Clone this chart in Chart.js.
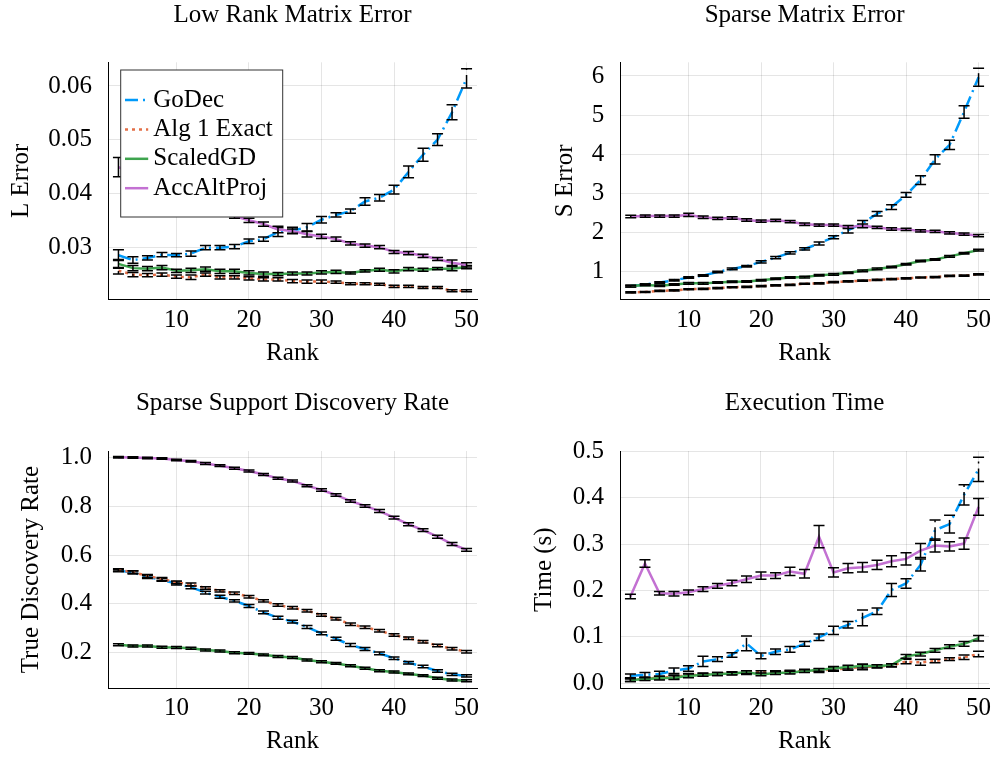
<!DOCTYPE html>
<html><head><meta charset="utf-8">
<script src="https://cdn.jsdelivr.net/npm/chart.js@4"></script>
<style>
html,body{margin:0;padding:0;background:#fff;}
#wrap{position:relative;width:995px;height:757px;overflow:hidden;}
canvas{position:absolute;}
</style></head><body>
<div id="wrap">
<canvas id="c1" width="497" height="378" style="left:0;top:0"></canvas>
<canvas id="c2" width="498" height="378" style="left:497px;top:0"></canvas>
<canvas id="c3" width="497" height="379" style="left:0;top:378px"></canvas>
<canvas id="c4" width="498" height="379" style="left:497px;top:378px"></canvas>
</div>
<script>
// ---------- data ----------
const ranks = [2,4,6,8,10,12,14,16,18,20,22,24,26,28,30,32,34,36,38,40,42,44,46,48,50];
const seriesNames = ['GoDec','Alg 1 Exact','ScaledGD','AccAltProj'];
const xTicks = [10,20,30,40,50];

// Low Rank Matrix Error
const lGoDec = [0.0285,0.0276,0.0280,0.0286,0.0285,0.0288,0.0299,0.0299,0.0301,0.0311,0.0315,0.0328,0.0331,0.0337,0.0351,0.0360,0.0367,0.0385,0.0392,0.0407,0.0440,0.0472,0.0500,0.0551,0.0614];
const lGoDecErr = [0.0010,0.0006,0.0004,0.0004,0.0003,0.0005,0.0004,0.0004,0.0004,0.0004,0.0004,0.0008,0.0006,0.0007,0.0006,0.0004,0.0004,0.0007,0.0006,0.0008,0.0011,0.0012,0.0011,0.0014,0.0018];
const lAlg1 = [0.0256,0.0249,0.0248,0.0249,0.0245,0.0244,0.0249,0.0244,0.0244,0.0242,0.0240,0.0240,0.0237,0.0236,0.0236,0.0235,0.0232,0.0232,0.0231,0.0227,0.0227,0.0225,0.0225,0.0219,0.0219];
const lAlg1Err = [0.0006,0.0004,0.0003,0.0003,0.0003,0.0004,0.0003,0.0003,0.0003,0.0003,0.0003,0.0003,0.0003,0.0003,0.0003,0.0002,0.0002,0.0002,0.0002,0.0002,0.0002,0.0002,0.0002,0.0002,0.0002];
const lScaled = [0.0269,0.0261,0.0260,0.0262,0.0256,0.0257,0.0259,0.0255,0.0255,0.0252,0.0250,0.0250,0.0251,0.0251,0.0253,0.0254,0.0252,0.0256,0.0258,0.0255,0.0259,0.0258,0.0260,0.0260,0.0263];
const lScaledErr = [0.0008,0.0005,0.0004,0.0004,0.0003,0.0004,0.0004,0.0004,0.0004,0.0004,0.0004,0.0003,0.0003,0.0003,0.0003,0.0003,0.0002,0.0002,0.0003,0.0003,0.0003,0.0003,0.0002,0.0004,0.0003];
const lAcc = [0.0449,0.0437,0.0426,0.0415,0.0404,0.0393,0.0382,0.0371,0.0358,0.0350,0.0343,0.0333,0.0330,0.0324,0.0320,0.0315,0.0307,0.0303,0.0300,0.0291,0.0289,0.0284,0.0278,0.0271,0.0267];
const lAccErr = [0.0018,0.0005,0.0005,0.0005,0.0004,0.0004,0.0004,0.0004,0.0004,0.0004,0.0004,0.0006,0.0004,0.0005,0.0004,0.0004,0.0003,0.0003,0.0003,0.0003,0.0003,0.0003,0.0003,0.0005,0.0004];
const lTicks = [0.03,0.04,0.05,0.06];

// Sparse Matrix Error
const sGoDec = [0.63,0.67,0.72,0.78,0.85,0.90,0.99,1.07,1.14,1.25,1.36,1.48,1.58,1.72,1.88,2.06,2.24,2.48,2.65,2.96,3.34,3.87,4.24,5.08,5.97];
const sGoDecErr = [0.02,0.02,0.02,0.02,0.02,0.02,0.02,0.02,0.02,0.03,0.03,0.03,0.03,0.04,0.04,0.07,0.07,0.06,0.06,0.06,0.11,0.12,0.12,0.16,0.23];
const sAlg1 = [0.47,0.48,0.51,0.52,0.55,0.56,0.58,0.60,0.61,0.63,0.65,0.66,0.69,0.70,0.73,0.75,0.77,0.79,0.81,0.83,0.85,0.86,0.89,0.90,0.93];
const sAlg1Err = [0.015,0.015,0.015,0.015,0.015,0.015,0.015,0.015,0.015,0.015,0.015,0.015,0.015,0.015,0.015,0.015,0.015,0.015,0.015,0.015,0.015,0.015,0.015,0.015,0.015];
const sScaled = [0.63,0.66,0.64,0.67,0.70,0.70,0.72,0.74,0.75,0.78,0.82,0.85,0.86,0.91,0.93,0.97,1.02,1.07,1.12,1.19,1.27,1.31,1.39,1.47,1.55];
const sScaledErr = [0.02,0.02,0.02,0.02,0.02,0.02,0.02,0.02,0.02,0.02,0.02,0.02,0.02,0.02,0.02,0.02,0.02,0.02,0.02,0.02,0.02,0.02,0.02,0.02,0.02];
const sAcc = [2.41,2.42,2.42,2.42,2.45,2.39,2.36,2.37,2.32,2.29,2.31,2.28,2.21,2.19,2.19,2.14,2.17,2.13,2.09,2.08,2.04,2.03,1.99,1.96,1.92];
const sAccErr = [0.03,0.03,0.03,0.03,0.04,0.03,0.03,0.03,0.03,0.03,0.03,0.03,0.03,0.03,0.03,0.04,0.05,0.03,0.03,0.03,0.03,0.03,0.03,0.03,0.03];
const sTicks = [1,2,3,4,5,6];

// Sparse Support Discovery Rate
const tGoDec = [0.536,0.528,0.510,0.498,0.483,0.468,0.446,0.429,0.412,0.391,0.365,0.343,0.327,0.305,0.279,0.257,0.231,0.215,0.197,0.177,0.159,0.143,0.125,0.111,0.105];
const tGoDecErr = [0.005,0.006,0.006,0.006,0.006,0.006,0.006,0.006,0.005,0.006,0.006,0.006,0.006,0.006,0.006,0.006,0.006,0.006,0.006,0.005,0.005,0.005,0.005,0.005,0.005];
const tAlg1 = [0.539,0.530,0.514,0.502,0.488,0.479,0.465,0.453,0.443,0.429,0.412,0.395,0.384,0.372,0.354,0.339,0.316,0.304,0.290,0.272,0.259,0.245,0.229,0.216,0.204];
const tAlg1Err = [0.005,0.005,0.006,0.006,0.006,0.006,0.005,0.005,0.005,0.005,0.005,0.005,0.005,0.005,0.005,0.005,0.005,0.005,0.005,0.005,0.005,0.005,0.005,0.005,0.005];
const tScaled = [0.232,0.227,0.227,0.222,0.221,0.218,0.211,0.207,0.200,0.197,0.191,0.184,0.180,0.170,0.163,0.156,0.146,0.136,0.126,0.121,0.113,0.106,0.095,0.088,0.085];
const tScaledErr = [0.004,0.004,0.004,0.004,0.004,0.004,0.004,0.004,0.004,0.004,0.004,0.004,0.004,0.004,0.004,0.004,0.004,0.004,0.004,0.004,0.004,0.004,0.004,0.004,0.004];
const tAcc = [1.000,0.999,0.997,0.995,0.989,0.984,0.975,0.966,0.955,0.944,0.930,0.914,0.903,0.884,0.866,0.846,0.821,0.801,0.780,0.753,0.726,0.702,0.675,0.645,0.621];
const tAccErr = [0.003,0.003,0.003,0.003,0.003,0.003,0.004,0.004,0.004,0.004,0.004,0.004,0.004,0.004,0.005,0.005,0.005,0.005,0.006,0.006,0.006,0.006,0.006,0.006,0.006];
const tTicks = [0.2,0.4,0.6,0.8,1.0];

// Execution Time
const eGoDec = [0.016,0.018,0.020,0.027,0.032,0.047,0.052,0.061,0.086,0.059,0.068,0.073,0.085,0.099,0.114,0.126,0.141,0.155,0.201,0.215,0.255,0.330,0.343,0.406,0.461];
const eGoDecErr = [0.004,0.005,0.006,0.006,0.006,0.011,0.005,0.005,0.016,0.006,0.006,0.006,0.005,0.007,0.009,0.007,0.017,0.007,0.014,0.010,0.013,0.022,0.019,0.022,0.026];
const eAlg1 = [0.007,0.010,0.012,0.014,0.017,0.019,0.020,0.022,0.023,0.024,0.024,0.025,0.027,0.027,0.030,0.032,0.035,0.036,0.038,0.047,0.045,0.048,0.052,0.056,0.063];
const eAlg1Err = [0.003,0.003,0.003,0.004,0.004,0.003,0.003,0.003,0.004,0.003,0.003,0.003,0.003,0.004,0.004,0.004,0.006,0.003,0.003,0.005,0.006,0.004,0.003,0.005,0.006];
const eScaled = [0.007,0.009,0.011,0.012,0.016,0.018,0.020,0.021,0.024,0.019,0.022,0.023,0.026,0.029,0.032,0.035,0.037,0.037,0.039,0.058,0.063,0.071,0.079,0.085,0.097];
const eScaledErr = [0.003,0.003,0.004,0.004,0.004,0.003,0.003,0.003,0.003,0.003,0.003,0.003,0.003,0.003,0.004,0.004,0.004,0.003,0.003,0.004,0.004,0.004,0.004,0.005,0.006];
const eAcc = [0.187,0.258,0.194,0.193,0.196,0.203,0.210,0.216,0.224,0.232,0.232,0.241,0.236,0.316,0.239,0.248,0.250,0.255,0.263,0.268,0.286,0.297,0.295,0.301,0.380];
const eAccErr = [0.005,0.008,0.004,0.005,0.005,0.005,0.005,0.006,0.007,0.008,0.006,0.009,0.009,0.024,0.010,0.010,0.010,0.010,0.012,0.013,0.015,0.014,0.010,0.012,0.018];
const eTicks = [0.0,0.1,0.2,0.3,0.4,0.5];

// ---------- styles ----------
const SERIF = "'Liberation Serif', 'Times New Roman', serif";
const lineStyles = [
  {color:'#009AFA', dash:[13,5,2,5]},
  {color:'#E36F47', dash:[3,4]},
  {color:'#3EA44E', dash:[]},
  {color:'#C371D2', dash:[]}
];
const font25 = {family: SERIF, size: 25, weight: 'normal', lineHeight: 1.2};

const errorBars = {
  id: 'errorBars',
  afterDatasetDraw(chart, args) {
    const ds = chart.data.datasets[args.index];
    if (!ds.errors) return;
    const ctx = chart.ctx, xs = chart.scales.x, ys = chart.scales.y;
    ctx.save();
    ctx.strokeStyle = '#000';
    ctx.lineWidth = 1.5;
    ctx.lineCap = 'butt';
    ds.data.forEach((p, i) => {
      const e = ds.errors[i];
      const x = xs.getPixelForValue(p.x);
      const yl = ys.getPixelForValue(p.y - e);
      const yh = ys.getPixelForValue(p.y + e);
      ctx.setLineDash(ds.borderDash || []);
      ctx.beginPath();
      ctx.moveTo(x, yl); ctx.lineTo(x, yh);
      ctx.stroke();
      ctx.setLineDash([]);
      ctx.beginPath();
      ctx.moveTo(x - 5.5, yl); ctx.lineTo(x + 5.5, yl);
      ctx.moveTo(x - 5.5, yh); ctx.lineTo(x + 5.5, yh);
      ctx.stroke();
    });
    ctx.restore();
  }
};

const boxLegend = {
  id: 'boxLegend',
  afterDraw(chart, args, opts) {
    if (!opts || !opts.show) return;
    const a = chart.chartArea, ctx = chart.ctx;
    const x0 = a.left + 12.7, y0 = a.top + 7.7, w = 162, h = 147;
    ctx.save();
    ctx.fillStyle = '#fff';
    ctx.fillRect(x0, y0, w, h);
    ctx.strokeStyle = '#333';
    ctx.lineWidth = 1;
    ctx.setLineDash([]);
    ctx.strokeRect(x0, y0, w, h);
    chart.data.datasets.forEach((ds, i) => {
      const y = y0 + 30 + i * 29.4;
      ctx.strokeStyle = ds.borderColor;
      ctx.lineWidth = ds.borderWidth;
      ctx.setLineDash(ds.borderDash || []);
      ctx.beginPath(); ctx.moveTo(x0 + 4.3, y); ctx.lineTo(x0 + 27.5, y); ctx.stroke();
      ctx.setLineDash([]);
      ctx.fillStyle = '#000';
      ctx.font = "25px " + SERIF;
      ctx.textBaseline = 'middle';
      ctx.textAlign = 'left';
      ctx.fillText(ds.label, x0 + 32.6, y);
    });
    ctx.restore();
  }
};

function makeChart(id, cfg) {
  return new Chart(document.getElementById(id), {
    type: 'line',
    data: {
      datasets: cfg.series.map((vals, i) => ({
        label: seriesNames[i],
        data: ranks.map((r, j) => ({x: r, y: vals[j]})),
        errors: cfg.errors[i],
        borderColor: lineStyles[i].color,
        backgroundColor: lineStyles[i].color,
        borderWidth: 2.5,
        borderDash: lineStyles[i].dash,
        pointRadius: 0,
        tension: 0,
        fill: false,
        order: 3 - i
      }))
    },
    plugins: [errorBars, boxLegend],
    options: {
      responsive: false,
      animation: false,
      events: [],
      layout: {padding: {left: 0, right: cfg.padRight, top: 0, bottom: 0}},
      plugins: {
        legend: {display: false},
        tooltip: {enabled: false},
        boxLegend: {show: !!cfg.legend},
        title: {display: true, text: cfg.title, fullSize: false, color: '#000', font: font25,
                padding: {top: cfg.titleTop, bottom: cfg.titleBottom}}
      },
      scales: {
        x: {
          type: 'linear', min: 0.56, max: 51.44,
          afterBuildTicks: s => { s.ticks = xTicks.map(v => ({value: v})); },
          afterFit: s => { s.height = cfg.xAxisH; s.paddingLeft = 0; s.paddingRight = 0; },
          grid: {color: 'rgba(0,0,0,0.1)', lineWidth: 1, drawTicks: false},
          border: {display: true, color: '#000', width: 1},
          ticks: {color: '#000', font: font25, padding: cfg.xTickPad, maxRotation: 0, autoSkip: false,
                  callback: v => String(v)},
          title: {display: true, text: 'Rank', color: '#000', font: font25, padding: {top: 0, bottom: cfg.xTitlePad}}
        },
        y: {
          type: 'linear', min: cfg.yMin, max: cfg.yMax,
          afterBuildTicks: s => { s.ticks = cfg.yTicks.map(v => ({value: v})); },
          afterFit: s => { s.width = cfg.yAxisW; s.paddingTop = 0; s.paddingBottom = 0; },
          grid: {color: 'rgba(0,0,0,0.1)', lineWidth: 1, drawTicks: false},
          border: {display: true, color: '#000', width: 1},
          ticks: {color: '#000', font: font25, padding: 16, autoSkip: false,
                  callback: v => Number(v).toFixed(cfg.dec)},
          title: {display: true, text: cfg.ylabel, color: '#000', font: font25, padding: {top: cfg.yTitlePad, bottom: 0}}
        }
      }
    }
  });
}

makeChart('c1', {
  title: 'Low Rank Matrix Error', ylabel: 'L Error',
  series: [lGoDec, lAlg1, lScaled, lAcc], errors: [lGoDecErr, lAlg1Err, lScaledErr, lAccErr],
  yMin: 0.0203, yMax: 0.0644, yTicks: lTicks, dec: 2,
  padRight: 20, yAxisW: 108, xAxisH: 78.7, titleTop: 0, titleBottom: 32.3,
  xTickPad: 6, xTitlePad: 9.7, yTitlePad: 6, legend: true
});
makeChart('c2', {
  title: 'Sparse Matrix Error', ylabel: 'S Error',
  series: [sGoDec, sAlg1, sScaled, sAcc], errors: [sGoDecErr, sAlg1Err, sScaledErr, sAccErr],
  yMin: 0.293, yMax: 6.35, yTicks: sTicks, dec: 0,
  padRight: 6, yAxisW: 123.3, xAxisH: 78.7, titleTop: 0, titleBottom: 32.3,
  xTickPad: 6, xTitlePad: 9.7, yTitlePad: 53
});
makeChart('c3', {
  title: 'Sparse Support Discovery Rate', ylabel: 'True Discovery Rate',
  series: [tGoDec, tAlg1, tScaled, tAcc], errors: [tGoDecErr, tAlg1Err, tScaledErr, tAccErr],
  yMin: 0.054, yMax: 1.026, yTicks: tTicks, dec: 1,
  padRight: 20, yAxisW: 108, xAxisH: 68.7, titleTop: 10.3, titleBottom: 32.7,
  xTickPad: 5.3, xTitlePad: 0.4, yTitlePad: 16
});
makeChart('c4', {
  title: 'Execution Time', ylabel: 'Time (s)',
  series: [eGoDec, eAlg1, eScaled, eAcc], errors: [eGoDecErr, eAlg1Err, eScaledErr, eAccErr],
  yMin: -0.0108, yMax: 0.5005, yTicks: eTicks, dec: 1,
  padRight: 6, yAxisW: 123, xAxisH: 68.7, titleTop: 10.3, titleBottom: 32.7,
  xTickPad: 5.3, xTitlePad: 0.4, yTitlePad: 32
});
</script>
</body></html>
